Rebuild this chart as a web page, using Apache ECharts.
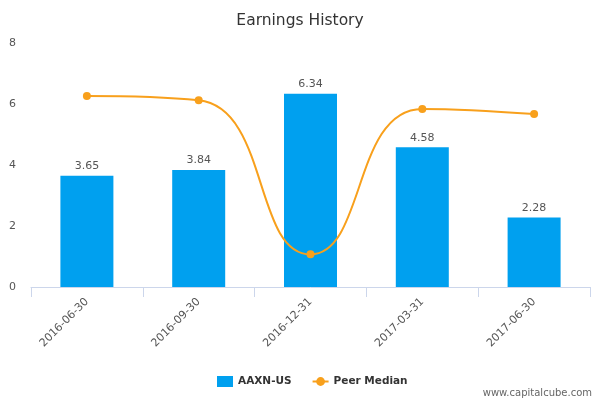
<!DOCTYPE html>
<html><head><meta charset="utf-8">
<script src="https://cdn.jsdelivr.net/npm/echarts@6/dist/echarts.min.js"></script>
<style>html,body{margin:0;padding:0;background:#fff}#c{width:600px;height:400px}</style>
</head><body><div id="c"></div>
<script>
var categories = ['2016-06-30','2016-09-30','2016-12-31','2017-03-31','2017-06-30'];
var companyValues = [3.65, 3.84, 6.34, 4.58, 2.28];
var peerMedian = [6.26, 6.12, 1.07, 5.84, 5.67];
var yTicks = [0, 2, 4, 6, 8];

var chart = echarts.init(document.getElementById('c'));
chart.setOption({
  animation: false,
  title: {text: 'Earnings History', left: 'center', top: 8,
    textStyle: {fontFamily: 'DejaVu Sans', fontSize: 15.5, fontWeight: 'normal', color: '#333'}},
  grid: {left: 31, right: 10, top: 43, bottom: 113},
  legend: {bottom: 8, left: 212, itemGap: 20, itemWidth: 16, itemHeight: 11,
    textStyle: {fontFamily: 'DejaVu Sans', fontSize: 10.5, fontWeight: 'bold', color: '#333'},
    data: [{name: 'AAXN-US', icon: 'rect'}, {name: 'Peer Median'}]},
  graphic: [{type: 'text', right: 8, bottom: 2,
    style: {text: 'www.capitalcube.com', fontFamily: 'DejaVu Sans', fontSize: 10, fill: '#666'}}],
  xAxis: {type: 'category', data: categories,
    axisLine: {lineStyle: {color: '#ccd6eb'}},
    axisTick: {show: true, length: 10, lineStyle: {color: '#ccd6eb'}},
    axisLabel: {rotate: 45, color: '#555', fontFamily: 'DejaVu Sans', fontSize: 11, margin: 13}},
  yAxis: {type: 'value', min: yTicks[0], max: yTicks[yTicks.length-1], interval: 2,
    splitLine: {show: false}, axisLine: {show: false}, axisTick: {show: false},
    axisLabel: {color: '#555', fontFamily: 'DejaVu Sans', fontSize: 11, align: 'left', margin: 22}},
  series: [
    {name: 'AAXN-US', type: 'bar', data: companyValues, barWidth: 53,
      itemStyle: {color: '#00a0ef'},
      label: {show: true, position: 'top', distance: 4, color: '#555', fontFamily: 'DejaVu Sans', fontSize: 11,
        formatter: function(p){return p.value.toFixed(2);}}},
    {name: 'Peer Median', type: 'line', data: peerMedian, smooth: 0.5,
      symbol: 'circle', symbolSize: 8,
      lineStyle: {color: '#f8a01c', width: 2}, itemStyle: {color: '#f8a01c'}}
  ]
});
</script></body></html>
